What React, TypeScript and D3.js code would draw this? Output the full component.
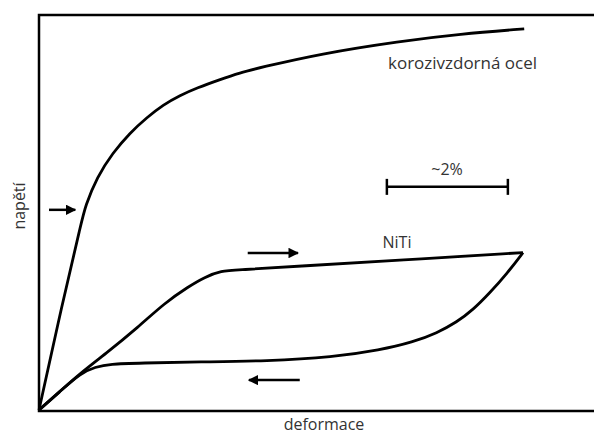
import React from "react";
import * as d3 from "d3";

// strain in %, stress in arbitrary units (0..100 = full plot height)
const steelStrain = [0, 0.38, 0.71, 0.76, 0.96, 1.22, 1.50, 1.79, 2.05, 2.33, 2.61, 2.99, 3.32, 3.65, 4.64, 5.97, 6.96, 8.02];
const steelStress = [0.25, 26.8, 48.2, 51.5, 59.1, 65.2, 70.2, 74.2, 77.3, 79.7, 81.6, 83.7, 85.4, 86.7, 90.2, 93.4, 95.2, 96.5];

const loadStrain = [0, 0.35, 0.69, 1.09, 1.64, 2.08, 2.46, 2.74, 3.01, 3.29, 4.31, 5.97, 8.0];
const loadStress = [0.25, 5, 9.6, 14.3, 21.2, 27.3, 31.3, 33.8, 35.4, 35.6, 36.6, 38.1, 40.0];

const unloadStrain = [0, 0.35, 0.69, 0.93, 1.17, 1.67, 2.66, 3.77, 4.86, 5.64, 6.18, 6.58, 6.91, 7.17, 7.45, 7.74, 8.0];
const unloadStress = [0.25, 5, 9.6, 11.1, 11.9, 12.1, 12.4, 12.6, 13.6, 15.4, 17.4, 19.7, 22.5, 25.5, 29.8, 34.8, 40.0];

// annotation arrows: [x0, x1, y]
const arrows: [number, number, number][] = [
  [0.165, 0.6, 50.8],
  [3.45, 4.28, 39.9],
  [4.31, 3.47, 7.8],
];
const scaleBar = [5.75, 7.75, 56.6];
const labels = { steel: "korozivzdorná ocel", niti: "NiTi", bar: "~2%", x: "deformace", y: "napětí" };

const W = 594, H = 434;
const left = 39, top = 15, right = 594, bottom = 411;

export default function App() {
  const x = d3.scaleLinear().domain([0, (right - left) / 60.5]).range([left, right]);
  const y = d3.scaleLinear().domain([0, 100]).range([bottom, top]);
  const line = d3.line<[number, number]>().x(d => x(d[0])).y(d => y(d[1])).curve(d3.curveBasis);
  const zip = (a: number[], b: number[]) => a.map((v, i) => [v, b[i]] as [number, number]);
  const font = "'Open Sans', sans-serif";
  return (
    <svg width={W} height={H} style={{ position: "absolute", left: 0, top: 0, background: "#fff" }}>
      <defs>
        <marker id="ah" viewBox="0 0 10 10" refX="9" refY="5" markerWidth="4.2" markerHeight="4.2" orient="auto" markerUnits="strokeWidth">
          <path d="M0,0 L10,5 L0,10 z" fill="#000" />
        </marker>
      </defs>
      <rect width={W} height={H} fill="#fff" />
      <path d={`M${right},${top}H${left}V${bottom}H${right}`} fill="none" stroke="#000" strokeWidth={2.5} />
      <path d={line(zip(steelStrain, steelStress)) || ""} fill="none" stroke="#000" strokeWidth={2.8} />
      <path d={line(zip(loadStrain, loadStress)) || ""} fill="none" stroke="#000" strokeWidth={2.8} />
      <path d={line(zip(unloadStrain, unloadStress)) || ""} fill="none" stroke="#000" strokeWidth={2.8} strokeLinejoin="round" />
      {arrows.map((a, i) => (
        <line key={i} x1={x(a[0])} x2={x(a[1])} y1={y(a[2])} y2={y(a[2])} stroke="#000" strokeWidth={2.5} markerEnd="url(#ah)" />
      ))}
      <g stroke="#000" strokeWidth={2.5}>
        <line x1={x(scaleBar[0])} x2={x(scaleBar[1])} y1={y(scaleBar[2])} y2={y(scaleBar[2])} />
        <line x1={x(scaleBar[0])} x2={x(scaleBar[0])} y1={y(scaleBar[2]) - 8} y2={y(scaleBar[2]) + 8} />
        <line x1={x(scaleBar[1])} x2={x(scaleBar[1])} y1={y(scaleBar[2]) - 8} y2={y(scaleBar[2]) + 8} />
      </g>
      <g fontFamily={font} fill="#333" fontSize={16}>
        <text x={388} y={69} textLength={149} lengthAdjust="spacingAndGlyphs">{labels.steel}</text>
        <text x={397} y={248} textAnchor="middle">{labels.niti}</text>
        <text x={447} y={175} textAnchor="middle">{labels.bar}</text>
        <text x={324} y={430} textAnchor="middle">{labels.x}</text>
        <text transform={`translate(25,206) rotate(-90)`} textAnchor="middle">{labels.y}</text>
      </g>
    </svg>
  );
}
